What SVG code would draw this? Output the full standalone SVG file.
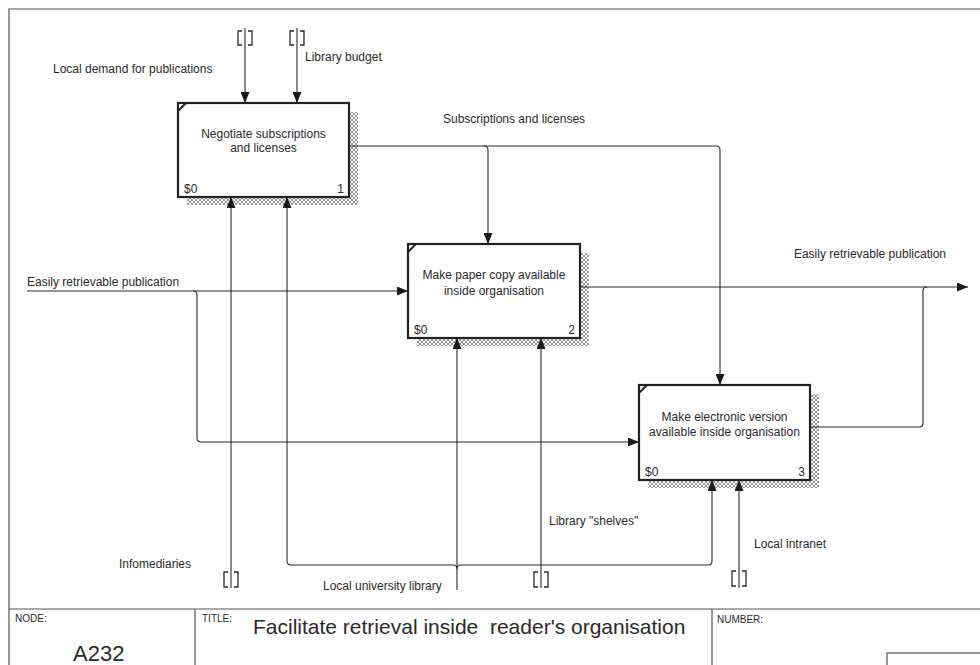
<svg xmlns="http://www.w3.org/2000/svg" width="980" height="665" viewBox="0 0 980 665">
  <style>
    .frame { fill: none; stroke: #555; stroke-width: 1.2; }
    .box { fill: #fff; stroke: #222; stroke-width: 2.2; }
    .shadow { fill: url(#hatch); stroke: none; }
    .corner { stroke: #222; stroke-width: 2; }
    .wire { fill: none; stroke: #2a2a2a; stroke-width: 1.1; }
    .arrow { marker-end: url(#head); }
    .tunnel { fill: none; stroke: #2a2a2a; stroke-width: 1.3; }
    text { font-family: "Liberation Sans", Arial, sans-serif; fill: #2a2a2a; }
    .lbl { font-size: 12px; }
    .act { font-size: 12px; text-anchor: middle; }
    .cost { font-size: 12px; }
    .num { font-size: 12px; text-anchor: end; }
    .field { font-size: 10px; }
    .title { font-size: 21px; white-space: pre; }
  </style>
  <defs>
    <pattern id="hatch" patternUnits="userSpaceOnUse" width="4" height="4">
      <path d="M0,0 L4,4 M4,0 L0,4" stroke="#666" stroke-width="0.7"/>
    </pattern>
    <marker id="head" markerUnits="userSpaceOnUse" markerWidth="11" markerHeight="9" refX="11" refY="4.5" orient="auto">
      <path d="M0,0 L11,4.5 L0,9 z" fill="#1a1a1a"/>
    </marker>
  </defs>

  <!-- drawing frame and title block -->
  <g id="frame">
    <path class="frame" d="M980,9 H9 V665"/>
    <path class="frame" d="M9,609 H980 M195,609 V665 M712,609 V665"/>
    <rect class="frame" x="887" y="653" width="100" height="20"/>
    <text class="field" x="15" y="622">NODE:</text>
    <text x="73" y="661" font-size="22">A232</text>
    <text class="field" x="202" y="622">TITLE:</text>
    <text class="title" x="253" y="634" xml:space="preserve">Facilitate retrieval inside  reader's organisation</text>
    <text class="field" x="717" y="623">NUMBER:</text>
  </g>

  <!-- activity boxes -->
  <g id="box1">
    <rect class="shadow" x="187" y="112" width="171" height="93"/>
    <rect class="box" x="178" y="103" width="171" height="94"/>
    <line class="corner" x1="178" y1="111" x2="186" y2="103"/>
    <text class="act" x="263.5" y="138">Negotiate subscriptions</text>
    <text class="act" x="263.5" y="152">and licenses</text>
    <text class="cost" x="184" y="193">$0</text>
    <text class="num" x="344" y="193">1</text>
  </g>
  <g id="box2">
    <rect class="shadow" x="417" y="253" width="172" height="93"/>
    <rect class="box" x="408" y="244" width="172" height="94"/>
    <line class="corner" x1="408" y1="252" x2="416" y2="244"/>
    <text class="act" x="494" y="279">Make paper copy available</text>
    <text class="act" x="494" y="295">inside organisation</text>
    <text class="cost" x="414" y="334">$0</text>
    <text class="num" x="575" y="334">2</text>
  </g>
  <g id="box3">
    <rect class="shadow" x="648" y="394" width="171" height="94"/>
    <rect class="box" x="639" y="385" width="171" height="95"/>
    <line class="corner" x1="639" y1="393" x2="647" y2="385"/>
    <text class="act" x="724.5" y="421">Make electronic version</text>
    <text class="act" x="724.5" y="436">available inside organisation</text>
    <text class="cost" x="645" y="476">$0</text>
    <text class="num" x="805" y="476">3</text>
  </g>

  <!-- arrows -->
  <g id="connectors">
    <!-- controls of box 1 -->
    <path class="wire arrow" d="M245,28 V103"/>
    <path class="tunnel" d="M242,31 H238 V45 H242 M248,31 H252 V45 H248"/>
    <path class="wire arrow" d="M297,28 V103"/>
    <path class="tunnel" d="M294,31 H290 V45 H294 M300,31 H304 V45 H300"/>

    <!-- subscriptions and licenses -->
    <path class="wire arrow" d="M349,146 H716 Q720,146 720,150 V385"/>
    <path class="wire arrow" d="M484,146 Q488,146 488,150 V244"/>

    <!-- incoming publication -->
    <path class="wire arrow" d="M27,291 H408"/>
    <path class="wire arrow" d="M193,291 Q197,291 197,295 V438 Q197,442 201,442 H639"/>

    <!-- outgoing publication -->
    <path class="wire arrow" d="M580,287 H968"/>
    <path class="wire" d="M810,427 H919 Q923,427 923,423 V291 Q923,287 927,287"/>

    <!-- infomediaries -->
    <path class="wire arrow" d="M231,588 V197"/>
    <path class="tunnel" d="M228,572 H224 V587 H228 M234,572 H238 V587 H234"/>

    <!-- local university library -->
    <path class="wire arrow" d="M457,590 V338"/>
    <path class="wire arrow" d="M453,565 H291 Q287,565 287,561 V197"/>
    <path class="wire arrow" d="M461,565 H708 Q712,565 712,561 V480"/>
    <path class="wire" d="M453,565 Q457,565 457,569 M461,565 Q457,565 457,569"/>

    <!-- library shelves -->
    <path class="wire arrow" d="M541,588 V338"/>
    <path class="tunnel" d="M538,572 H534 V587 H538 M544,572 H548 V587 H544"/>

    <!-- local intranet -->
    <path class="wire arrow" d="M739,588 V480"/>
    <path class="tunnel" d="M736,571 H732 V586 H736 M742,571 H746 V586 H742"/>
  </g>

  <!-- arrow labels -->
  <g id="labels">
    <text class="lbl" x="53" y="73">Local demand for publications</text>
    <text class="lbl" x="305" y="61">Library budget</text>
    <text class="lbl" x="443" y="123">Subscriptions and licenses</text>
    <text class="lbl" x="27" y="286">Easily retrievable publication</text>
    <text class="lbl" x="946" y="258" text-anchor="end">Easily retrievable publication</text>
    <text class="lbl" x="549" y="525">Library "shelves"</text>
    <text class="lbl" x="754" y="548">Local intranet</text>
    <text class="lbl" x="119" y="568">Infomediaries</text>
    <text class="lbl" x="323" y="590">Local university library</text>
  </g>
</svg>
